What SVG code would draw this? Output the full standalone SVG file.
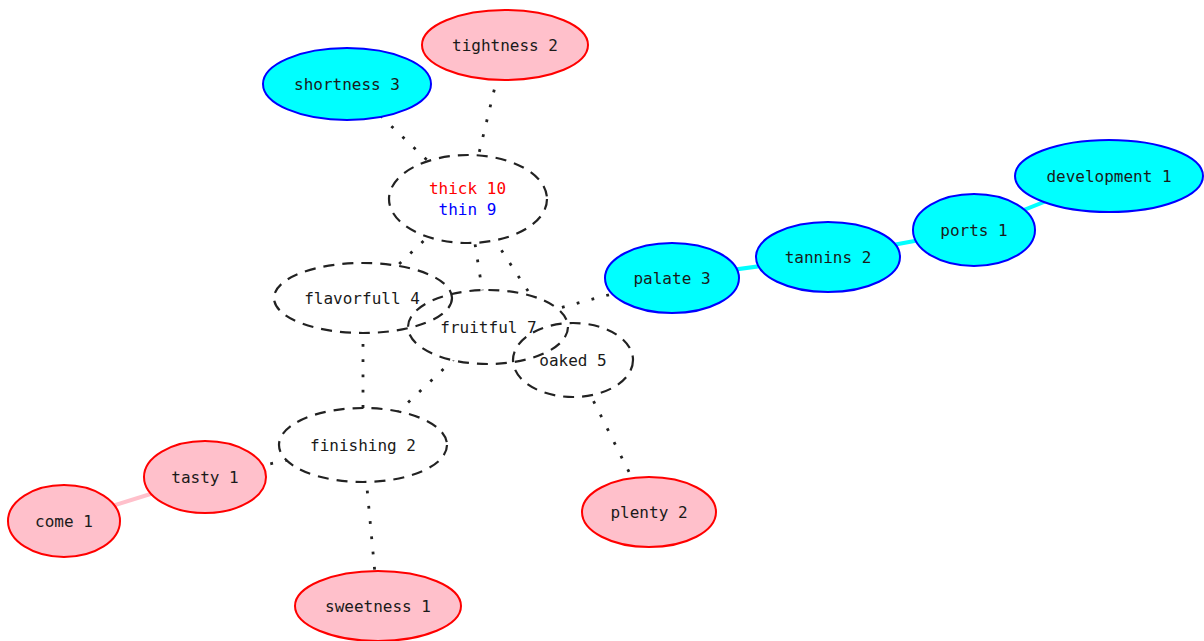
<svg xmlns="http://www.w3.org/2000/svg" width="1204" height="641" viewBox="0 0 1204 641">
  <style>
    text { font-family: "DejaVu Sans Mono", "Liberation Mono", monospace; font-size: 16px; fill: #1a1a1a; text-anchor: middle; }
    .red { fill: #ffc0cb; stroke: #ff0000; stroke-width: 2; }
    .blue { fill: #00ffff; stroke: #0000ff; stroke-width: 2; }
    .hub { fill: none; stroke: #222; stroke-width: 2.2; stroke-dasharray: 11 8; }
    .dot { stroke: #222; stroke-width: 2.8; stroke-dasharray: 2.8 12.5; fill: none; }
    .pink { stroke: #ffc0cb; stroke-width: 4; }
    .cyan { stroke: #00ffff; stroke-width: 4; }
  </style>
  <defs>
    <!-- keeps connectors outside node bodies -->
    <mask id="outside">
      <rect x="0" y="0" width="1204" height="641" fill="#fff"/>
      <g fill="#000">
        <ellipse cx="505" cy="45" rx="83" ry="35"/>
        <ellipse cx="347" cy="84" rx="84" ry="36"/>
        <ellipse cx="468" cy="199" rx="79" ry="44"/>
        <ellipse cx="363" cy="298" rx="89" ry="35"/>
        <ellipse cx="488" cy="327" rx="80" ry="37"/>
        <ellipse cx="573" cy="360" rx="60" ry="37"/>
        <ellipse cx="363" cy="445" rx="84" ry="37"/>
        <ellipse cx="205" cy="477" rx="61" ry="36"/>
        <ellipse cx="64" cy="521" rx="56" ry="36"/>
        <ellipse cx="378" cy="606" rx="83" ry="35"/>
        <ellipse cx="649" cy="512" rx="67" ry="35"/>
        <ellipse cx="672" cy="278" rx="67" ry="35"/>
        <ellipse cx="828" cy="257" rx="72" ry="35"/>
        <ellipse cx="974" cy="230" rx="61" ry="36"/>
        <ellipse cx="1109" cy="176" rx="94" ry="36"/>
      </g>
    </mask>
  </defs>

  <g id="connectors" mask="url(#outside)">
    <line class="dot" x1="347" y1="84" x2="468" y2="199"/>
    <line class="dot" x1="505" y1="45" x2="468" y2="199"/>
    <line class="dot" x1="468" y1="199" x2="363" y2="298"/>
    <line class="dot" x1="468" y1="199" x2="488" y2="327"/>
    <line class="dot" x1="468" y1="199" x2="573" y2="360"/>
    <line class="dot" x1="363" y1="298" x2="363" y2="445"/>
    <line class="dot" x1="488" y1="327" x2="363" y2="445"/>
    <line class="dot" x1="488" y1="327" x2="672" y2="278"/>
    <line class="dot" x1="573" y1="360" x2="649" y2="512"/>
    <line class="dot" x1="363" y1="445" x2="205" y2="477"/>
    <line class="dot" x1="363" y1="445" x2="378" y2="606"/>
    <line class="pink" x1="64" y1="521" x2="205" y2="477"/>
    <line class="cyan" x1="672" y1="278" x2="828" y2="257"/>
    <line class="cyan" x1="828" y1="257" x2="974" y2="230"/>
    <line class="cyan" x1="974" y1="230" x2="1109" y2="176"/>
  </g>

  <g id="tightness">
    <ellipse class="red" cx="505" cy="45" rx="83" ry="35"/>
    <text x="505" y="50.5">tightness 2</text>
  </g>
  <g id="shortness">
    <ellipse class="blue" cx="347" cy="84" rx="84" ry="36"/>
    <text x="347" y="89.5">shortness 3</text>
  </g>
  <g id="thick-thin">
    <ellipse class="hub" cx="468" cy="199" rx="79" ry="44"/>
    <text x="467.5" y="194" style="fill:#ff0000">thick 10</text>
    <text x="467.5" y="215" style="fill:#0000ff">thin 9</text>
  </g>
  <g id="flavorfull">
    <ellipse class="hub" cx="363" cy="298" rx="89" ry="35"/>
    <text x="362" y="303.5">flavorfull 4</text>
  </g>
  <g id="fruitful">
    <ellipse class="hub" cx="488" cy="327" rx="80" ry="37"/>
    <text x="488.5" y="332.5">fruitful 7</text>
  </g>
  <g id="oaked">
    <ellipse class="hub" cx="573" cy="360" rx="60" ry="37"/>
    <text x="573" y="365.5">oaked 5</text>
  </g>
  <g id="finishing">
    <ellipse class="hub" cx="363" cy="445" rx="84" ry="37"/>
    <text x="363" y="450.5">finishing 2</text>
  </g>
  <g id="tasty">
    <ellipse class="red" cx="205" cy="477" rx="61" ry="36"/>
    <text x="205" y="482.5">tasty 1</text>
  </g>
  <g id="come">
    <ellipse class="red" cx="64" cy="521" rx="56" ry="36"/>
    <text x="64" y="526.5">come 1</text>
  </g>
  <g id="sweetness">
    <ellipse class="red" cx="378" cy="606" rx="83" ry="35"/>
    <text x="378" y="611.5">sweetness 1</text>
  </g>
  <g id="plenty">
    <ellipse class="red" cx="649" cy="512" rx="67" ry="35"/>
    <text x="649" y="517.5">plenty 2</text>
  </g>
  <g id="palate">
    <ellipse class="blue" cx="672" cy="278" rx="67" ry="35"/>
    <text x="672" y="283.5">palate 3</text>
  </g>
  <g id="tannins">
    <ellipse class="blue" cx="828" cy="257" rx="72" ry="35"/>
    <text x="828" y="262.5">tannins 2</text>
  </g>
  <g id="ports">
    <ellipse class="blue" cx="974" cy="230" rx="61" ry="36"/>
    <text x="974" y="235.5">ports 1</text>
  </g>
  <g id="development">
    <ellipse class="blue" cx="1109" cy="176" rx="94" ry="36"/>
    <text x="1109" y="181.5">development 1</text>
  </g>
</svg>
